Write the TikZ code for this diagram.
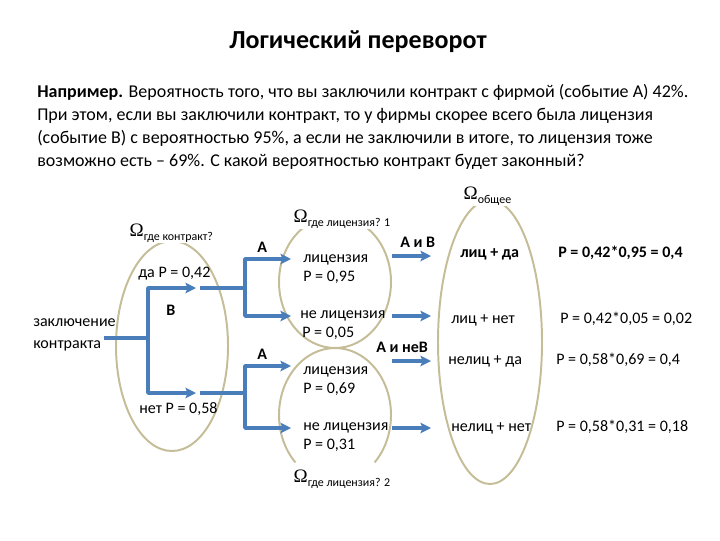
\documentclass[tikz,border=0pt]{standalone}
\usepackage{fontspec}
\setmainfont{Carlito}
\newfontfamily\omfont{Liberation Serif}
\usetikzlibrary{arrows.meta}
\definecolor{linkblue}{RGB}{74,126,187}
\definecolor{ovaltan}{RGB}{196,189,151}
\newcommand{\om}[1]{{\omfont\fontsize{13.5}{14}\selectfont Ω}\raisebox{-0.6ex}{\fontsize{8.5}{10}\selectfont #1}}
\begin{document}
\begin{tikzpicture}[x=0.025cm,y=-0.025cm,line join=round,line cap=butt,>={Stealth[length=7.5pt,width=7.5pt,inset=1.5pt]},
	oval/.style={draw=ovaltan,line width=1.4pt},
	link/.style={linkblue,line width=2.5pt},
	txt/.style={anchor=base west,inner sep=0pt,font=\fontsize{11.4}{13}\selectfont},
	boldtxt/.style={txt,font=\fontsize{11.4}{13}\selectfont\bfseries},
	para/.style={anchor=base west,inner sep=0pt,font=\fontsize{12.8}{15}\selectfont},
	omlabel/.style={anchor=base west,inner sep=1pt,fill=white}]
	\useasboundingbox (0,0) rectangle (720,540);
	% heading and task
	\node[anchor=base,inner sep=0pt,font=\fontsize{18.5}{22}\selectfont\bfseries] (title) at (358,48) {Логический переворот};
	\node[para] (line1) at (37,97) {\textbf{Например.} Вероятность того, что вы заключили контракт с фирмой (событие А) 42\%.};
	\node[para] (line2) at (37,120) {При этом, если вы заключили контракт, то у фирмы скорее всего была лицензия};
	\node[para] (line3) at (37,143) {(событие В) с вероятностью 95\%, а если не заключили в итоге, то лицензия тоже};
	\node[para] (line4) at (37,166) {возможно есть – 69\%. С какой вероятностью контракт будет законный?};
	% ovals
	\draw[oval] (172,346) ellipse [x radius=56, y radius=105];
	\draw[oval] (335,282) ellipse [x radius=56, y radius=66];
	\draw[oval] (295.4,462.4) arc [start angle=135, end angle=405, x radius=56, y radius=67];
	\draw[oval] (490,342) ellipse [x radius=52, y radius=142];
	\node[omlabel] (omK) at (128,236) {\om{где контракт?}};
	\node[omlabel] (omL1) at (292,222) {\om{где лицензия? 1}};
	\node[omlabel] (omAll) at (462,199) {\om{общее}};
	\node[omlabel] (omL2) at (292,482) {\om{где лицензия? 2}};
	% tree
	\coordinate (root) at (104,338);
	\coordinate (fork) at (148,338);
	\coordinate (yesEnd) at (196,288);
	\coordinate (noEnd) at (196,393);
	\coordinate (yesFrom) at (200,288);
	\coordinate (yesFork) at (245,288);
	\coordinate (noFrom) at (200,393);
	\coordinate (noFork) at (245,393);
	\draw[link] (root) -- (fork);
	\draw[link,->] (fork) |- (yesEnd);
	\draw[link,->] (fork) |- (noEnd);
	\draw[link] (yesFrom) -- (yesFork);
	\draw[link] (noFrom) -- (noFork);
	\draw[link,->] (yesFork) |- (291,259);
	\draw[link,->] (yesFork) |- (291,316);
	\draw[link,->] (noFork) |- (291,366);
	\draw[link,->] (noFork) |- (291,428);
	\node[txt] (start1) at (33,326) {заключение};
	\node[txt] (start2) at (33,348) {контракта};
	\node[txt] (yes) at (138,277) {да Р = 0,42};
	\node[boldtxt] (evB) at (166,315) {В};
	\node[txt] (no) at (139,413) {нет Р = 0,58};
	\node[boldtxt] (evA1) at (257,252) {А};
	\node[boldtxt] (evA2) at (257,359) {А};
	% middle ovals
	\node[txt] (lic1) at (303,262) {лицензия};
	\node[txt] (p1) at (303,281) {Р = 0,95};
	\node[txt] (nlic1) at (300,318) {не лицензия};
	\node[txt] (p2) at (302,337) {Р = 0,05};
	\node[txt] (lic2) at (303,374) {лицензия};
	\node[txt] (p3) at (303,393) {Р = 0,69};
	\node[txt] (nlic2) at (303,430) {не лицензия};
	\node[txt] (p4) at (303,449) {Р = 0,31};
	\node[boldtxt] (AB) at (400,247) {А и В};
	\node[boldtxt] (AnB) at (376,352) {А и неВ};
	\draw[link,->] (392,256) -- (431,256);
	\draw[link,->] (392,316) -- (431,316);
	\draw[link,->] (392,361) -- (431,361);
	\draw[link,->] (392,428) -- (431,428);
	% results
	\node[boldtxt] (r1) at (460,257) {лиц + да};
	\node[boldtxt] (q1) at (558,257) {Р = 0,42*0,95 = 0,4};
	\node[txt] (r2) at (451,323) {лиц + нет};
	\node[txt] (q2) at (560,323) {Р = 0,42*0,05 = 0,02};
	\node[txt] (r3) at (448,364) {нелиц + да};
	\node[txt] (q3) at (556,364) {Р = 0,58*0,69 = 0,4};
	\node[txt] (r4) at (451,431) {нелиц + нет};
	\node[txt] (q4) at (556,431) {Р = 0,58*0,31 = 0,18};
\end{tikzpicture}
\end{document}
